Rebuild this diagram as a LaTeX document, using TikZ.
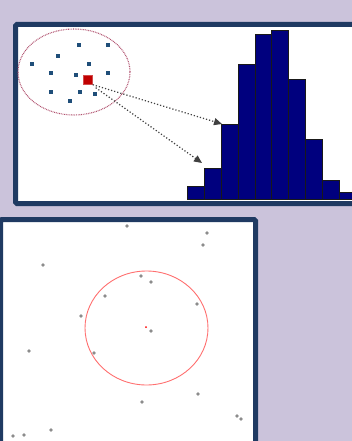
\documentclass[tikz,border=0pt]{standalone}
\usetikzlibrary{arrows.meta,shapes.geometric}
\definecolor{bg}{HTML}{CBC3DB}
\definecolor{frame}{HTML}{1F3A62}
\definecolor{bar}{HTML}{00007E}
\definecolor{bdot}{HTML}{1F4E79}
\definecolor{ell}{HTML}{B0506E}
\definecolor{sq}{HTML}{C00000}
\definecolor{gdot}{HTML}{8C8C8C}
\definecolor{ring}{HTML}{FF7070}
\begin{document}
\begin{tikzpicture}[x=1pt,y=-1pt,
  panel/.style={draw=frame,line width=5pt,fill=white,rounded corners=1.5pt},
  bluedot/.style={fill=bdot,inner sep=0pt,minimum size=3.5pt,rectangle},
  graydot/.style={fill=gdot,circle,inner sep=0pt,minimum size=3.6pt},
  hbar/.style={fill=bar,draw=black!90,line width=0.6pt},
  link/.style={draw=black!75,line width=1.2pt,dotted,-{Triangle[length=8pt,width=7pt]}}]
\useasboundingbox (0,0) rectangle (352,441);
\fill[bg] (0,0) rectangle (352,441);
\begin{scope}
\clip (0,0) rectangle (352,441);
% top panel
\draw[panel] (15.5,24.5) rectangle (362,203.5);
% histogram
\foreach \i/\t in {0/186,1/168,2/124,3/64,4/34,5/30,6/79,7/139,8/180,9/192}{
  \draw[hbar] ({187+16.95*\i},199) rectangle ({187+16.95*(\i+1)},\t);
}
% ellipse of neighbours
\node[draw=ell,dash pattern=on 0.8pt off 0.9pt,line width=1.1pt,ellipse,minimum width=112pt,minimum height=86pt,inner sep=0pt] (nb) at (74,72) {};
\foreach \n/\x/\y in {b1/79/45,b2/108/45,b3/58/56,b4/32/64,b5/89/64,b6/51/73,b7/76/75,b8/108/73,b9/51/92,b10/80/92,b11/95/94,b12/70/101}{
  \node[bluedot] (\n) at (\x,\y) {};
}
\node[fill=sq,draw=sq!70!white,inner sep=0pt,minimum size=9pt] (q) at (88,80) {};
\coordinate (t1) at (222,124);
\coordinate (t2) at (202,163);
\draw[link] (q.south east) -- (t1);
\draw[link] ([xshift=3pt,yshift=-3pt]q.south east) -- (t2);
% bottom panel
\draw[panel] (0.5,219.5) rectangle (255.5,460);
\node[draw=ring,line width=0.9pt,ellipse,minimum width=123pt,minimum height=114pt,inner sep=0pt] (rc) at (146.5,328) {};
\node[fill=red,circle,inner sep=0pt,minimum size=2pt] (c) at (146,327) {};
\foreach \n/\x/\y in {g1/127/226,g2/43/265,g3/141/276,g4/151/282,g5/105/296,g6/81/316,g7/151/331,g8/29/351,g9/94/353,g10/142/402,g11/51/430,g12/24/435,g13/13/436,g14/207/233,g15/203/245,g16/197/304,g17/198/394,g18/237/416,g19/241/419}{
  \node[graydot] (\n) at (\x,\y) {};
}
\end{scope}
\end{tikzpicture}
\end{document}
